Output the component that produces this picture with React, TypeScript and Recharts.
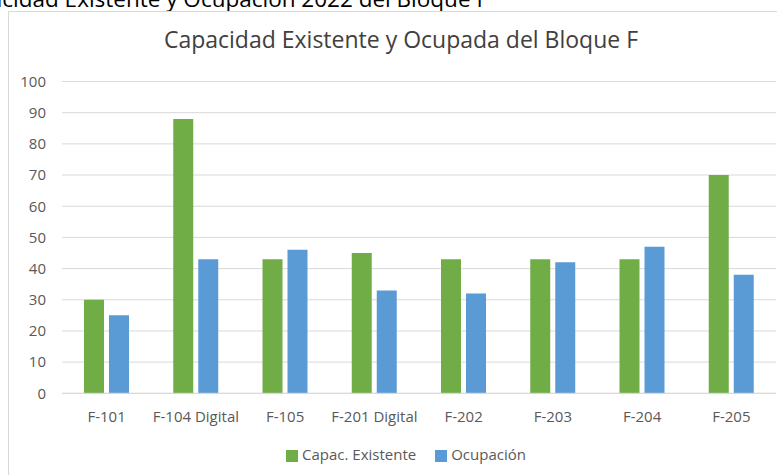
import React from "react";
import { BarChart, Bar, XAxis, YAxis, CartesianGrid, Legend } from "recharts";

const salas = [
  "F-101",
  "F-104 Digital",
  "F-105",
  "F-201 Digital",
  "F-202",
  "F-203",
  "F-204",
  "F-205",
];
const capacidad = [30, 88, 43, 45, 43, 43, 43, 70];
const ocupacion = [25, 43, 46, 33, 32, 42, 47, 38];
const yTicks = [0, 10, 20, 30, 40, 50, 60, 70, 80, 90, 100];

const data = salas.map((sala, i) => ({
  sala,
  capacidad: capacidad[i],
  ocupacion: ocupacion[i],
}));

const font = "'Open Sans', sans-serif";

export default function App() {
  return (
    <div
      style={{
        position: "absolute",
        left: 0,
        top: 0,
        width: 777,
        height: 475,
        overflow: "hidden",
        background: "#fff",
        fontFamily: font,
      }}
    >
      {/* caption of the document, cut off on the left */}
      <div
        style={{
          position: "absolute",
          right: 289,
          top: -12,
          fontSize: 22.5,
          lineHeight: "22.5px",
          whiteSpace: "nowrap",
          color: "#000",
        }}
      >
        Capacidad Existente y Ocupación 2022 del Bloque F
      </div>
      <div
        style={{
          position: "absolute",
          left: 8,
          top: 11,
          width: 800,
          height: 500,
          border: "1px solid #d9d9d9",
        }}
      />
      <div
        style={{
          position: "absolute",
          left: 0,
          width: 802,
          top: 26,
          textAlign: "center",
          fontSize: 23,
          lineHeight: "26px",
          color: "#404040",
          whiteSpace: "nowrap",
        }}
      >
        Capacidad Existente y Ocupada del Bloque F
      </div>
      <div style={{ position: "absolute", left: 0, top: 0 }}>
        <BarChart
          width={777}
          height={475}
          data={data}
          margin={{ top: 81.5, right: 1, bottom: 0, left: 0 }}
          barSize={20}
          barGap={5}
        >
          <CartesianGrid vertical={false} stroke="#d9d9d9" />
          <XAxis
            dataKey="sala"
            height={81.7}
            axisLine={{ stroke: "#d9d9d9" }}
            tickLine={false}
            tickMargin={12}
            interval={0}
            tick={{ fill: "#595959", fontSize: 15, fontFamily: font }}
          />
          <YAxis
            width={62}
            domain={[0, 100]}
            ticks={yTicks}
            axisLine={false}
            tickLine={false}
            tickMargin={10}
            tick={{ fill: "#595959", fontSize: 15, fontFamily: font }}
          />
          <Legend
            verticalAlign="middle"
            align="center"
            layout="horizontal"
            iconType="square"
            iconSize={12}
            wrapperStyle={{ top: 443, left: 6, width: 810 }}
            formatter={(v) => (
              <span
                style={{
                  color: "#595959",
                  fontSize: 15,
                  marginRight: v === "Capac. Existente" ? 9 : 0,
                }}
              >
                {v}
              </span>
            )}
          />
          <Bar
            dataKey="capacidad"
            name="Capac. Existente"
            fill="#70ad47"
            isAnimationActive={false}
          />
          <Bar
            dataKey="ocupacion"
            name="Ocupación"
            fill="#5b9bd5"
            isAnimationActive={false}
          />
        </BarChart>
      </div>
    </div>
  );
}
